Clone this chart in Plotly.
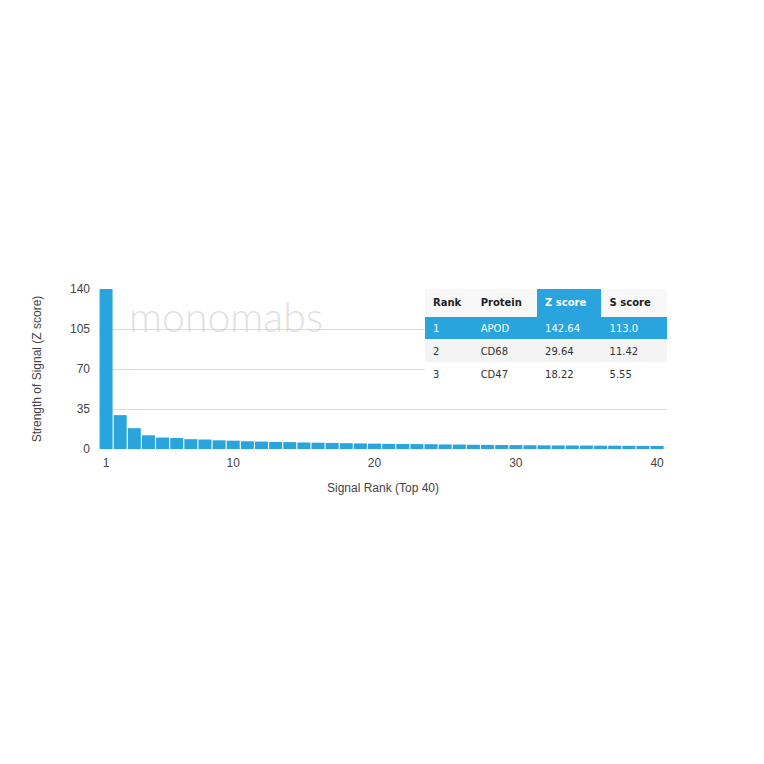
import plotly.graph_objects as go

ranks = list(range(1, 41))
z_scores = [142.64, 29.64, 18.22, 12.0, 10.0, 9.6, 8.6, 8.3, 7.6, 7.3,
            6.8, 6.5, 6.2, 6.0, 5.7, 5.5, 5.3, 5.1, 4.9, 4.7,
            4.5, 4.4, 4.3, 4.2, 4.0, 3.9, 3.7, 3.6, 3.5, 3.4,
            3.3, 3.2, 3.1, 3.1, 3.0, 2.9, 2.9, 2.8, 2.7, 2.7]
x_ticks = [1, 10, 20, 30, 40]
y_ticks = [0, 35, 70, 105, 140]

tbl_header = ["Rank", "Protein", "Z score", "S score"]
tbl_rank = ["1", "2", "3"]
tbl_protein = ["APOD", "CD68", "CD47"]
tbl_z = ["142.64", "29.64", "18.22"]
tbl_s = ["113.0", "11.42", "5.55"]

BLUE = "#2aa4dd"

fig = go.Figure()
fig.add_trace(go.Bar(x=ranks, y=z_scores, marker=dict(color=BLUE, line=dict(width=0)),
                     hoverinfo="x+y"))

row_fill = [BLUE, "#f4f4f4", "#ffffff"]
row_font = ["#ffffff", "#333333", "#333333"]
head_fill = ["#f8f8f8", "#f8f8f8", BLUE, "#f8f8f8"]
fig.add_trace(go.Table(
    domain=dict(x=[0.574, 1.0], y=[0.41, 1.0]),
    columnwidth=[48, 65, 65, 65],
    header=dict(values=["<b>%s</b>" % h for h in tbl_header],
                fill=dict(color=head_fill),
                font=dict(family="DejaVu Sans", size=10,
                          color=["#222222", "#222222", "#ffffff", "#222222"]),
                align="left", height=23, line=dict(width=1, color=head_fill)),
    cells=dict(values=[tbl_rank, tbl_protein, tbl_z, tbl_s],
               fill=dict(color=[row_fill] * 4),
               font=dict(family="DejaVu Sans", size=10, color=[row_font] * 4),
               align="left", height=23, line=dict(width=1, color=[row_fill] * 4)),
))

fig.add_annotation(text="monomabs", x=0.05, y=0.83, xref="paper", yref="paper",
                   xanchor="left", yanchor="middle", showarrow=False,
                   font=dict(family="Lato", size=41, weight=300, color="rgba(205,205,205,0.6)"))

fig.update_layout(
    width=764, height=764,
    margin=dict(l=91, r=105, t=281, b=323),
    paper_bgcolor="white", plot_bgcolor="white",
    showlegend=False, bargap=0.08,
    font=dict(family="Liberation Sans, Arial, sans-serif", size=12, color="#444444"),
    xaxis=dict(range=[0.5, 40.7], tickvals=x_ticks, ticktext=[str(t) for t in x_ticks],
               showgrid=False, zeroline=False, showline=False, ticks="",
               ticklabelstandoff=5,
               title=dict(text="Signal Rank (Top 40)", font=dict(size=12, color="#444444"), standoff=14)),
    yaxis=dict(range=[0, 140], tickvals=y_ticks, showgrid=True, gridcolor="#dddddd",
               gridwidth=1, zeroline=False, showline=False, ticks="",
               ticklabelstandoff=8,
               title=dict(text="Strength of Signal (Z score)", font=dict(size=12, color="#444444"),
                          standoff=25)),
)

fig.write_html("out.html")
